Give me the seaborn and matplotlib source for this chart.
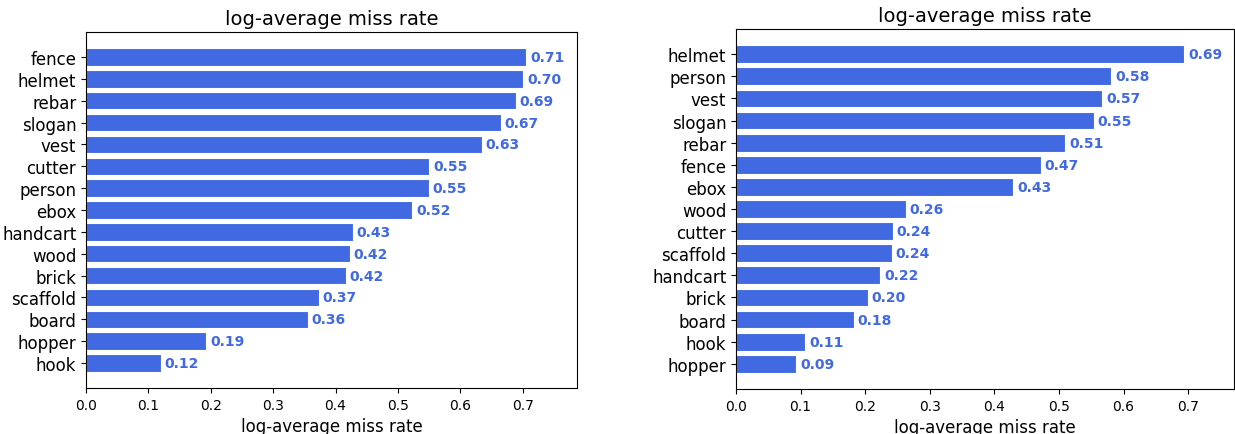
import matplotlib
matplotlib.use('Agg')
import matplotlib.pyplot as plt
import seaborn as sns
import pandas as pd

# left chart
left_classes = ['fence', 'helmet', 'rebar', 'slogan', 'vest', 'cutter', 'person', 'ebox',
                'handcart', 'wood', 'brick', 'scaffold', 'board', 'hopper', 'hook']
left_values = [0.706, 0.701, 0.689, 0.665, 0.634, 0.550, 0.549, 0.523,
               0.428, 0.423, 0.416, 0.373, 0.356, 0.193, 0.120]

# right chart
right_classes = ['helmet', 'person', 'vest', 'slogan', 'rebar', 'fence', 'ebox', 'wood',
                 'cutter', 'scaffold', 'handcart', 'brick', 'board', 'hook', 'hopper']
right_values = [0.694, 0.581, 0.567, 0.554, 0.510, 0.472, 0.429, 0.263,
                0.243, 0.241, 0.223, 0.204, 0.182, 0.107, 0.093]

x_ticks = [0.0, 0.1, 0.2, 0.3, 0.4, 0.5, 0.6, 0.7]
title = 'log-average miss rate'
bar_color = 'royalblue'

fig = plt.figure(figsize=(12.35, 4.35), dpi=100)
ax1 = fig.add_axes([86 / 1235, 1 - 389 / 435, 491 / 1235, 356 / 435])
ax2 = fig.add_axes([736 / 1235, 1 - 390 / 435, 498 / 1235, 360 / 435])


def draw(ax, classes, values, xmax):
    df = pd.DataFrame({'cls': classes, 'val': values})
    sns.barplot(data=df, x='val', y='cls', orient='h', color=bar_color,
                saturation=1, width=0.8, edgecolor='white', linewidth=0.8, ax=ax)
    n = len(classes)
    pad = 0.05 * (n - 1 + 0.8)
    ax.set_ylim(n - 1 + 0.4 + pad, -0.4 - pad)
    ax.set_xlim(0, xmax)
    ax.set_xticks(x_ticks)
    ax.set_xticklabels([f'{t:.1f}' for t in x_ticks], fontsize=10)
    ax.tick_params(axis='y', labelsize=12)
    ax.set_ylabel('')
    ax.set_xlabel(title, fontsize=12)
    ax.set_title(title, fontsize=14)
    for i, v in enumerate(values):
        ax.text(v + 0.006, i, f'{v:.2f}', va='center', ha='left',
                color=bar_color, fontweight='bold', fontsize=10)
    for s in ax.spines.values():
        s.set_visible(True)
        s.set_color('black')


draw(ax1, left_classes, left_values, 0.787)
draw(ax2, right_classes, right_values, 0.771)

fig.savefig('out.png', dpi=100)
